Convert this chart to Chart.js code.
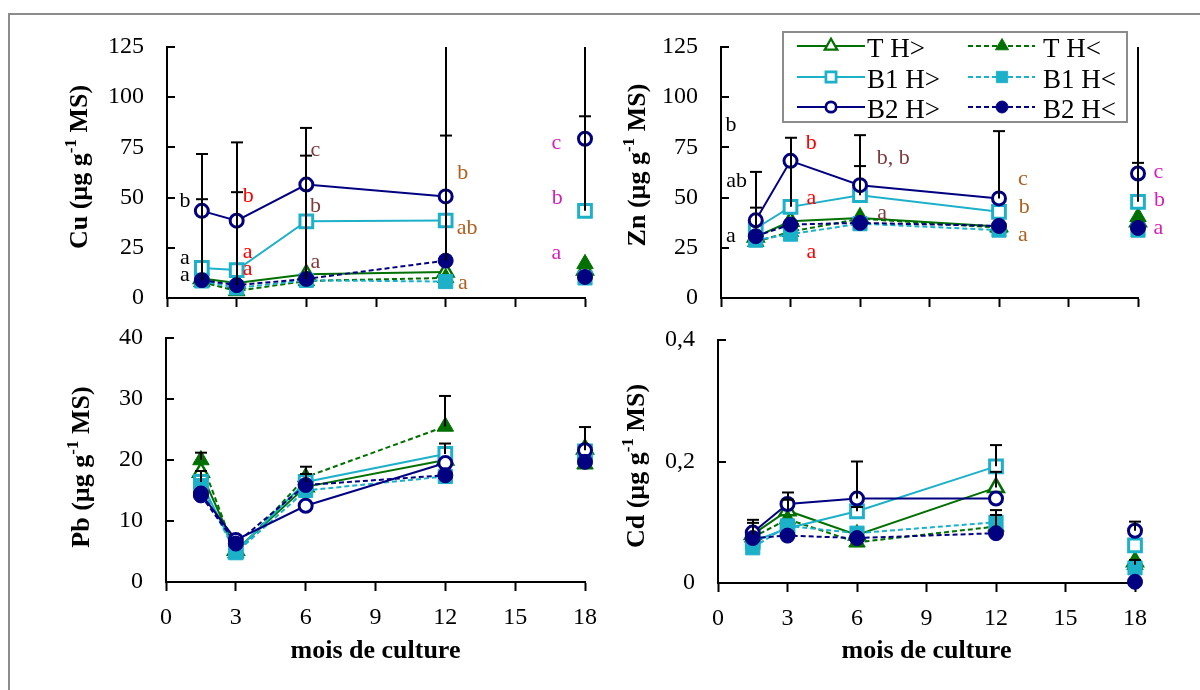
<!DOCTYPE html>
<html>
<head>
<meta charset="utf-8">
<script src="https://cdn.jsdelivr.net/npm/chart.js@4.4.0/dist/chart.umd.min.js"></script>
<style>
  body { margin: 0; background: #fff; width: 1200px; height: 690px; overflow: hidden; position: relative; }
  #frame { position: absolute; left: 8px; top: 13px; width: 1400px; height: 1000px; border: 2px solid #8c8c8c; }
  canvas { position: absolute; }
</style>
</head>
<body>
<div id="frame"></div>
<canvas id="cu" width="620" height="320" style="left:0;top:0"></canvas>
<canvas id="zn" width="580" height="320" style="left:620px;top:0"></canvas>
<canvas id="pb" width="620" height="370" style="left:0;top:320px"></canvas>
<canvas id="cd" width="580" height="370" style="left:620px;top:320px"></canvas>
<script>
// sampling times (months) and series names
const months = [1.5, 3, 6, 12, 18];
const seriesNames = ['T H>', 'T H<', 'B1 H>', 'B1 H<', 'B2 H>', 'B2 H<'];
const xTicks = [0, 3, 6, 9, 12, 15, 18];

// Cu
const cuTgt  = [9.7, 7.5, 11.8, 13, 14];
const cuTlt  = [8, 3.5, 8.5, 10, 17];
const cuB1gt = [15, 13.9, 38.2, 38.6, 43.4];
const cuB1lt = [8.5, 5, 8.8, 8.2, 10];
const cuB2gt = [43.4, 38.5, 56.5, 50.6, 79.3];
const cuB2lt = [8.9, 6.4, 9.5, 18.6, 10.5];
const cuYTicks = [0, 25, 50, 75, 100, 125];
// error bars: [month, from, to]
const cuErr = [[1.5, 43.4, 71.7], [1.5, 8.9, 49.2], [3, 38.5, 77.5], [3, 6.4, 52.7],
  [6, 56.5, 84.7], [6, 9.5, 70.9], [12, 50.6, 80.9], [12, 18.6, 140], [18, 79.3, 90.5], [18, 43.4, 140]];
// letters: [group month, month, value, text]
const cuLetters = [
  [1.5, 0.77, 48, 'b'], [1.5, 0.77, 20, 'a'], [1.5, 0.77, 11.3, 'a'],
  [3, 3.5, 50.9, 'b'], [3, 3.47, 23, 'a'], [3, 3.47, 14.2, 'a'],
  [6, 6.39, 73.5, 'c'], [6, 6.39, 45.5, 'b'], [6, 6.39, 18, 'a'],
  [12, 12.74, 62.2, 'b'], [12, 12.92, 34.7, 'ab'], [12, 12.74, 7.2, 'a'],
  [18, 16.77, 77.2, 'c'], [18, 16.81, 49.7, 'b'], [18, 16.77, 22.5, 'a']];

// Zn
const znTgt  = [30.4, 38.2, 39.8, 35.6, 38];
const znTlt  = [28, 33, 39.5, 35, 40.4];
const znB1gt = [34.6, 45.4, 51.2, 42.9, 47.9];
const znB1lt = [28.8, 31.8, 37, 33.8, 33.8];
const znB2gt = [38.7, 68.3, 56.2, 49.6, 62];
const znB2lt = [30.8, 36.6, 37.4, 35.9, 34.9];
const znYTicks = [0, 25, 50, 75, 100, 125];
const znErr = [[1.5, 38.7, 62.8], [1.5, 34.6, 45], [3, 45.4, 79.8], [6, 56.2, 81.1], [6, 51.2, 65.7],
  [12, 49.6, 83.1], [18, 62, 67.3], [18, 47.9, 140]];
const znLetters = [
  [1.5, 0.43, 86.1, 'b'], [1.5, 0.67, 58.4, 'ab'], [1.5, 0.43, 30.7, 'a'],
  [3, 3.9, 77.3, 'b'], [3, 3.9, 49.5, 'a'], [3, 3.9, 22.9, 'a'],
  [6, 7.43, 69.8, 'b, b'], [6, 6.95, 42.4, 'a'],
  [12, 13.03, 59.2, 'c'], [12, 13.09, 45.4, 'b'], [12, 13.03, 31.2, 'a'],
  [18, 18.88, 62.5, 'c'], [18, 18.93, 48.7, 'b'], [18, 18.88, 34.6, 'a']];

// Pb
const pbTgt  = [18, 5.2, 15.6, 20, 21.8];
const pbTlt  = [20, 4.7, 17.2, 25.5, 19.3];
const pbB1gt = [16.4, 5, 16.4, 21, 21.4];
const pbB1lt = [15.8, 4.8, 15, 17.3, 20.3];
const pbB2gt = [14.5, 6.9, 12.5, 19.5, 21.6];
const pbB2lt = [14.2, 6.3, 15.9, 17.5, 19.7];
const pbYTicks = [0, 10, 20, 30, 40];
const pbErr = [[1.5, 20, 21.2], [1.5, 16.4, 18.2], [6, 17.2, 18.9], [6, 16.4, 17.7],
  [12, 25.5, 30.5], [12, 21, 22.7], [18, 21.6, 25.4]];

// Cd
const cdTgt  = [0.08, 0.119, 0.079, 0.157, 0.035];
const cdTlt  = [0.075, 0.105, 0.067, 0.093, 0.03];
const cdB1gt = [0.068, 0.09, 0.118, 0.192, 0.062];
const cdB1lt = [0.058, 0.094, 0.082, 0.1, 0.025];
const cdB2gt = [0.083, 0.13, 0.139, 0.139, 0.086];
const cdB2lt = [0.074, 0.078, 0.074, 0.082, 0.002];
const cdYTicks = [0, 0.2, 0.4];
const cdErr = [[1.5, 0.083, 0.104], [1.5, 0.08, 0.099], [3, 0.13, 0.149], [3, 0.119, 0.137],
  [6, 0.139, 0.2], [6, 0.118, 0.125], [12, 0.192, 0.227], [12, 0.157, 0.183], [12, 0.1, 0.12],
  [12, 0.093, 0.112], [18, 0.086, 0.101], [18, 0.03, 0.038]];

const GREEN = '#007000', CYAN = '#1db0c9', NAVY = '#000080';
const SERIF = '"Liberation Serif", "Times New Roman", serif';
const styles = [
  { color: GREEN, point: 'triangle', open: true,  dash: [],     radius: 9,   bw: 2.5 },
  { color: GREEN, point: 'triangle', open: false, dash: [5, 3], radius: 9.5, bw: 1 },
  { color: CYAN,  point: 'rect',     open: true,  dash: [],     radius: 9,   bw: 3 },
  { color: CYAN,  point: 'rect',     open: false, dash: [5, 3], radius: 10,  bw: 1 },
  { color: NAVY,  point: 'circle',   open: true,  dash: [],     radius: 6.5, bw: 3 },
  { color: NAVY,  point: 'circle',   open: false, dash: [5, 3], radius: 7.5, bw: 1 },
];
const letterColor = { 1.5: '#000000', 3: '#ff0000', 6: '#7e3a3a', 12: '#b0601e', 18: '#d51fb9' };

function marker(ctx, s, x, y, k) {
  const r = s.radius * k;
  ctx.beginPath();
  if (s.point === 'circle') {
    ctx.arc(x, y, r, 0, Math.PI * 2);
  } else if (s.point === 'rect') {
    const h = r * Math.SQRT1_2;
    ctx.rect(x - h, y - h, 2 * h, 2 * h);
  } else {
    ctx.moveTo(x, y - r);
    ctx.lineTo(x + r * 0.866, y + r * 0.5);
    ctx.lineTo(x - r * 0.866, y + r * 0.5);
    ctx.closePath();
  }
  ctx.fillStyle = s.open ? '#fff' : s.color;
  ctx.fill();
  ctx.strokeStyle = s.color;
  ctx.lineWidth = s.bw * 0.9;
  ctx.stroke();
}

function drawLegend(ctx) {
  ctx.fillStyle = '#fff';
  ctx.fillRect(163, 32, 344, 90);
  ctx.strokeStyle = '#8c8c8c';
  ctx.lineWidth = 2;
  ctx.strokeRect(163, 32, 344, 90);
  const cols = [[177, 245, 211, 247], [348, 415, 382, 423]];
  const rows = [46, 77, 107];
  seriesNames.forEach((name, i) => {
    const c = cols[i % 2], ry = rows[Math.floor(i / 2)], s = styles[i];
    ctx.strokeStyle = s.color;
    ctx.lineWidth = 2;
    ctx.setLineDash(s.dash);
    ctx.beginPath(); ctx.moveTo(c[0], ry); ctx.lineTo(c[1], ry); ctx.stroke();
    ctx.setLineDash([]);
    marker(ctx, s, c[2], ry, 0.8);
    ctx.fillStyle = '#000';
    ctx.font = '27px ' + SERIF;
    ctx.textAlign = 'left';
    ctx.textBaseline = 'alphabetic';
    ctx.fillText(name, c[3], ry + 10.5);
  });
}

// y title with a superscript
function drawYTitle(ctx, el, cx, cy) {
  const main = '26px ' + SERIF, sup = '17px ' + SERIF;
  const a = el + ' (µg g', b = '-1', c = ' MS)';
  ctx.save();
  ctx.translate(cx, cy);
  ctx.rotate(-Math.PI / 2);
  ctx.fillStyle = '#000';
  ctx.textBaseline = 'middle';
  ctx.textAlign = 'left';
  ctx.font = 'bold ' + main; const wa = ctx.measureText(a).width, wc = ctx.measureText(c).width;
  ctx.font = 'bold ' + sup; const wb = ctx.measureText(b).width;
  let x = -(wa + wb + wc) / 2;
  ctx.font = 'bold ' + main; ctx.fillText(a, x, 0); x += wa;
  ctx.font = 'bold ' + sup; ctx.fillText(b, x, -8); x += wb;
  ctx.font = 'bold ' + main; ctx.fillText(c, x, 0);
  ctx.restore();
}

function deco(cfg) {
  return {
    id: 'deco',
    beforeDatasetsDraw(chart) {
      // inward tick marks on the value axis
      const { ctx, chartArea: area, scales: { y } } = chart;
      ctx.save();
      ctx.strokeStyle = '#000';
      ctx.lineWidth = 2;
      y.ticks.forEach(t => {
        const py = Math.round(y.getPixelForValue(t.value));
        ctx.beginPath(); ctx.moveTo(area.left, py); ctx.lineTo(area.left + 8, py); ctx.stroke();
      });
      ctx.restore();
    },
    afterDraw(chart) {
      const { ctx, chartArea: area, scales: { x, y } } = chart;
      ctx.save();
      ctx.strokeStyle = '#000';
      ctx.lineWidth = 2;
      cfg.err.forEach(([m, lo, hi]) => {
        const px = Math.round(x.getPixelForValue(m));
        const y0 = y.getPixelForValue(lo);
        const y1 = Math.max(area.top, y.getPixelForValue(hi));
        ctx.beginPath(); ctx.moveTo(px, y0); ctx.lineTo(px, y1); ctx.stroke();
        if (hi <= y.max) {
          ctx.beginPath(); ctx.moveTo(px - 6, y1); ctx.lineTo(px + 6, y1); ctx.stroke();
        }
      });
      ctx.font = '22px ' + SERIF;
      ctx.textAlign = 'center';
      ctx.textBaseline = 'middle';
      (cfg.letters || []).forEach(([g, m, v, t]) => {
        ctx.fillStyle = letterColor[g];
        ctx.fillText(t, x.getPixelForValue(m), y.getPixelForValue(v));
      });
      drawYTitle(ctx, cfg.el, cfg.titleAt[0], cfg.titleAt[1]);
      if (cfg.legend) drawLegend(ctx);
      ctx.restore();
    }
  };
}

function makeChart(id, vals, yTicks, area, cfg) {
  const canvas = document.getElementById(id);
  const W = canvas.width, H = canvas.height;
  const tickFont = { family: SERIF, size: 24 };
  const datasets = vals.map((arr, i) => {
    const s = styles[i];
    return {
      label: seriesNames[i],
      data: months.map((m, j) => ({ x: m, y: arr[j] })),
      borderColor: s.color,
      borderWidth: 2,
      borderDash: s.dash,
      pointStyle: s.point,
      pointRadius: s.radius,
      pointBorderWidth: s.bw,
      pointBackgroundColor: s.open ? '#fff' : s.color,
      pointBorderColor: s.color,
      order: 5 - i,
      clip: false,
      fill: false,
      tension: 0,
      segment: { borderColor: c => c.p0DataIndex === 3 ? 'rgba(0,0,0,0)' : undefined },
    };
  });
  new Chart(canvas, {
    type: 'line',
    data: { datasets },
    options: {
      responsive: false,
      animation: false,
      devicePixelRatio: 1,
      layout: { padding: { left: 0, top: area.t, right: W - area.r, bottom: 0 } },
      plugins: { legend: { display: false }, tooltip: { enabled: false } },
      scales: {
        x: {
          type: 'linear', min: 0, max: 18,
          afterBuildTicks: sc => { sc.ticks = xTicks.map(v => ({ value: v })); },
          afterFit: sc => { sc.height = H - area.b; sc.paddingLeft = 0; sc.paddingRight = 0; },
          border: { color: '#000', width: 2 },
          grid: { drawOnChartArea: false, color: '#000', tickLength: 9, tickWidth: 2 },
          ticks: { font: tickFont, color: '#000', padding: 12, maxRotation: 0, autoSkip: false,
                   callback: v => cfg.showX ? String(v) : '' },
          title: { display: !!cfg.showX, text: 'mois de culture', color: '#000',
                   font: { family: SERIF, size: 26, weight: 'bold' }, padding: { top: 0, bottom: 23 } }
        },
        y: {
          min: 0, max: yTicks[yTicks.length - 1],
          afterBuildTicks: sc => { sc.ticks = yTicks.map(v => ({ value: v })); },
          afterFit: sc => { sc.width = area.l; sc.paddingTop = 0; sc.paddingBottom = 0; },
          border: { color: '#000', width: 2 },
          grid: { drawOnChartArea: false, drawTicks: false },
          ticks: { font: tickFont, color: '#000', padding: 23,
                   callback: v => String(Math.round(v * 10) / 10).replace('.', ',') }
        }
      }
    },
    plugins: [deco(cfg)]
  });
}

makeChart('cu', [cuTgt, cuTlt, cuB1gt, cuB1lt, cuB2gt, cuB2lt], cuYTicks,
  { l: 167, t: 47, r: 585, b: 298 },
  { el: 'Cu', err: cuErr, letters: cuLetters, titleAt: [80, 167], showX: false });
makeChart('zn', [znTgt, znTlt, znB1gt, znB1lt, znB2gt, znB2lt], znYTicks,
  { l: 101, t: 47, r: 518, b: 298 },
  { el: 'Zn', err: znErr, letters: znLetters, titleAt: [18, 165], showX: false, legend: true });
makeChart('pb', [pbTgt, pbTlt, pbB1gt, pbB1lt, pbB2gt, pbB2lt], pbYTicks,
  { l: 166, t: 18, r: 585, b: 262 },
  { el: 'Pb', err: pbErr, titleAt: [82, 147], showX: true });
makeChart('cd', [cdTgt, cdTlt, cdB1gt, cdB1lt, cdB2gt, cdB2lt], cdYTicks,
  { l: 98, t: 20, r: 515, b: 263 },
  { el: 'Cd', err: cdErr, titleAt: [17, 146], showX: true });
</script>
</body>
</html>
